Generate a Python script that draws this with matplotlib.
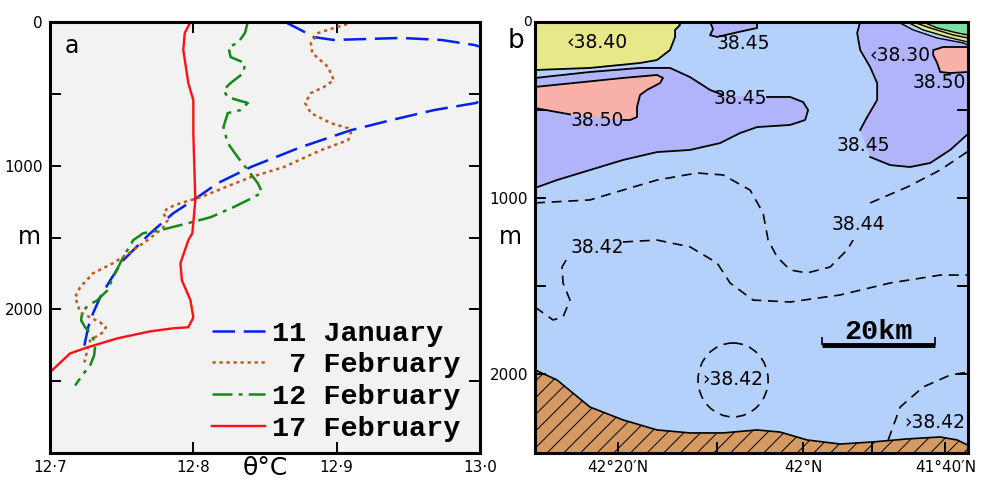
import matplotlib
matplotlib.use("Agg")
import matplotlib.pyplot as plt
import numpy as np
from matplotlib.patches import Ellipse

# ---- panel a: potential temperature profiles ----
depth_jan = [0, 56, 105, 125, 118, 111, 125, 160, 195, 300, 420, 500, 564, 613, 683, 753, 871,
             1010, 1122, 1240, 1331, 1470, 1519, 1659, 1798, 1916, 2028, 2125, 2300]
theta_jan = [12.864, 12.875, 12.884, 12.898, 12.922, 12.945, 12.973, 12.996, 13.008, 13.03, 13.03,
             13.012, 12.997, 12.968, 12.938, 12.910, 12.875, 12.840, 12.817, 12.800, 12.786, 12.770,
             12.765, 12.751, 12.742, 12.735, 12.730, 12.7266, 12.723]

depth_feb7 = [0, 42, 77, 146, 216, 314, 404, 453, 495, 564, 634, 704, 739, 767, 822, 892, 1010, 1080,
              1171, 1220, 1261, 1296, 1331, 1380, 1429, 1463, 1519, 1589, 1679, 1749, 1847, 1916, 1958,
              2021, 2056, 2091, 2125, 2160, 2216, 2286, 2370]
theta_feb7 = [12.912, 12.898, 12.887, 12.882, 12.883, 12.894, 12.898, 12.891, 12.882, 12.878, 12.882,
              12.896, 12.908, 12.910, 12.908, 12.889, 12.863, 12.840, 12.817, 12.805, 12.791, 12.782,
              12.779, 12.782, 12.779, 12.775, 12.768, 12.758, 12.744, 12.730, 12.721, 12.7175, 12.719,
              12.721, 12.728, 12.735, 12.739, 12.737, 12.728, 12.726, 12.724]

depth_feb12 = [0, 77, 146, 174, 244, 286, 355, 425, 474, 523, 544, 564, 613, 634, 732, 843, 941, 1031,
               1122, 1185, 1220, 1289, 1359, 1401, 1449, 1470, 1519, 1638, 1777, 1868, 1937, 1972, 2021,
               2077, 2125, 2181, 2251, 2321, 2390, 2460, 2530]
theta_feb12 = [12.838, 12.836, 12.831, 12.8245, 12.826, 12.836, 12.835, 12.826, 12.821, 12.824, 12.831,
               12.838, 12.833, 12.824, 12.821, 12.824, 12.831, 12.838, 12.845, 12.848, 12.842, 12.828,
               12.812, 12.796, 12.777, 12.765, 12.758, 12.751, 12.744, 12.740, 12.733, 12.7266, 12.7224,
               12.7217, 12.7245, 12.7294, 12.7315, 12.7308, 12.728, 12.7224, 12.7175]

depth_feb17 = [0, 77, 195, 425, 544, 774, 1010, 1240, 1470, 1519, 1679, 1798, 1937, 2056, 2125, 2132,
               2153, 2202, 2265, 2307, 2425, 2445]
theta_feb17 = [12.798, 12.794, 12.793, 12.7965, 12.800, 12.800, 12.8007, 12.8014, 12.7993, 12.7965,
               12.791, 12.792, 12.798, 12.800, 12.7965, 12.786, 12.770, 12.747, 12.726, 12.714,
               12.7014, 12.697]

profile_labels = ["11 January", " 7 February", "12 February", "17 February"]

# ---- panel b: salinity section (distance km, depth m) ----
yellow_x = [0, 9.73, 18.58, 21.59, 23.89, 24.78, 24.78, 25.66, 25.31]
yellow_d = [273, 261, 233, 216, 159, 85, 45, 17, 0]

purple_x = [0, 9.73, 18.58, 23.89, 27.43, 30.97, 33.27, np.nan, 41.06, 45.13, 47.43, 48.32, 47.79,
            45.13, 39.29, 36.28, 32.74, 27.43, 21.59, 15.58, 9.73, 3.89, 0]
purple_d = [318, 284, 261, 261, 313, 386, 415, np.nan, 426, 426, 455, 500, 557, 585, 597, 631, 688,
            727, 739, 784, 841, 898, 943]

salmon_x = [0, 6.73, 15.58, 21.59, 22.65, 22.12, 19.82, 18.58, 18.05, 18.05, 16.81, 15.58, np.nan, 6.2, 0]
salmon_d = [369, 347, 318, 301, 318, 347, 386, 415, 483, 540, 557, 557, np.nan, 525, 489]

bump_x = [30.97, 31.5, 30.97, 32.21, 36.28, 39.29, 39.29]
bump_d = [0, 40, 75, 85, 55, 34, 0]

rpurple_x = [57.52, 56.99, 57.52, 59.29, 60.53, 60.53, 58.76, 57.52, np.nan, 59.29, 62.83, 66.37,
             69.91, 73.45, 76.6]
rpurple_d = [0, 62, 159, 256, 347, 443, 540, 614, np.nan, 767, 813, 824, 801, 727, 636]

rsalmon_x = [76.6, 72.21, 70.44, 70.44, 71.15, 71.68, 73.45, 76.6]
rsalmon_d = [142, 142, 160, 188, 233, 284, 290, 284]

corner_x = [[64.25, 66.90, 71.15, 75.75, 76.6],
            [65.84, 68.67, 72.92, 76.6],
            [66.90, 69.91, 73.98, 76.6],
            [68.67, 71.15, 74.69, 76.6]]
corner_d = [[0, 45, 91, 119, 131],
            [0, 45, 85, 114],
            [0, 34, 74, 91],
            [0, 34, 62, 74]]
corner_colors = ["#b3d1fb", "#e6e88a", "#cfdc8e", "#7ee0a0"]

c4244_x = [0, 9.73, 15.58, 21.59, 28.67, 33.27, 38.05, 40.35, 41.24, 42.83, 45.13, 48.14, 52.21,
           55.22, 56.28, np.nan, 59.29, 65.84, 71.68, 76.6]
c4244_d = [1028, 1011, 955, 898, 858, 869, 955, 1085, 1239, 1335, 1409, 1426, 1392, 1295, 1239,
           np.nan, 1028, 938, 841, 735]

c4242_x = [0, 3.19, 4.96, 6.19, 4.96, 4.78, 5.84, np.nan, 15.58, 21.59, 27.43, 32.21, 34.51, 38.58,
           45.13, 53.98, 62.83, 71.68, 76.6]
c4242_d = [1620, 1693, 1676, 1580, 1483, 1392, 1335, np.nan, 1250, 1239, 1278, 1369, 1483, 1580,
           1591, 1551, 1483, 1438, 1438]

c4242b_x = [62.48, 64.60, 68.67, 73.45, 76.6]
c4242b_d = [2375, 2188, 2074, 2006, 1989]

eddy_centre = (35.04, 2034)
eddy_size = (12.4, 420)

bottom_x = [0, 3.89, 9.73, 15.58, 21.59, 27.43, 33.27, 39.29, 43.36, 48.14, 53.98, 59.82, 65.84,
            71.68, 74.69, 76.6]
bottom_d = [1977, 2034, 2188, 2261, 2318, 2335, 2335, 2318, 2330, 2375, 2398, 2386, 2369, 2358,
            2375, 2405]

contour_labels = ["\u203938.40", "38.45", "\u203938.30", "38.50", "38.45", "38.50", "38.45",
                  "38.44", "38.42", "\u203a38.42", "\u203a38.42"]
label_x = [10.97, 36.8, 64.6, 71.6, 36.28, 10.97, 58.05, 57.17, 10.97, 35.04, 70.8]
label_d = [114, 122, 188, 345, 432, 557, 700, 1153, 1284, 2034, 2278]

station_km = [14.7, 32.2, 47.4, 59.6, 72.6]
station_labels = ["42\u00b020\u2032N", "", "42\u00b0N", "", "41\u00b040\u2032N"]
scale_km = [50.8, 70.8]
scale_depth = 1835

plt.rcParams["font.family"] = "DejaVu Sans"
plt.rcParams["hatch.linewidth"] = 0.7
mono = {"family": "Liberation Mono", "weight": "bold", "size": 20.5}

fig = plt.figure(figsize=(9.91, 4.83), dpi=100)
ax1 = fig.add_axes([50 / 991, 30 / 483, 430 / 991, 431 / 483])
ax2 = fig.add_axes([535 / 991, 30 / 483, 433 / 991, 431 / 483])

# panel a
ax1.set_facecolor("#f2f2f2")
ax1.plot(theta_jan, depth_jan, color="#0022ee", lw=1.8, dashes=(9, 3.5), label=profile_labels[0])
ax1.plot(theta_feb7, depth_feb7, color="#c05a1c", lw=1.8, dashes=(1.3, 1.5), label=profile_labels[1])
ax1.plot(theta_feb12, depth_feb12, color="#138a13", lw=1.8, dashes=(8, 2.5, 1.5, 2.5), label=profile_labels[2])
ax1.plot(theta_feb17, depth_feb17, color="#ff1010", lw=1.7, label=profile_labels[3])
ax1.set_xlim(12.7, 13.0)
ax1.set_ylim(3000, 0)
ax1.set_xticks([12.7, 12.8, 12.9, 13.0])
ax1.set_xticklabels(["12\u00b77", "12\u00b78", "12\u00b79", "13\u00b70"])
ax1.set_yticks([0, 1000, 2000])
ax1.set_yticks([500, 1500, 2500], minor=True)
ax1.legend(loc="upper left", bbox_to_anchor=(0.377, 0.307), frameon=False, prop=mono,
           handlelength=1.85, handletextpad=0.25, labelspacing=0.2, borderpad=0, borderaxespad=0)
ax1.text(0.035, 0.945, "a", transform=ax1.transAxes, fontsize=17, va="center")
ax1.text(0.5, -0.035, "\u03b8\u00b0C", transform=ax1.transAxes, fontsize=18, ha="center", va="center")
ax1.text(-0.047, 0.5, "m", transform=ax1.transAxes, fontsize=17, ha="center", va="center")

# panel b
ax2.set_facecolor("#b3d1fb")
regions = [(yellow_x, yellow_d, "#e6e88a", [(0, 0)]),
           (purple_x, purple_d, "#b1b3fb", []),
           (salmon_x, salmon_d, "#f8b0a8", []),
           (bump_x, bump_d, "#b1b3fb", []),
           (rpurple_x, rpurple_d, "#b1b3fb", [(76.6, 0)]),
           (rsalmon_x, rsalmon_d, "#f8b0a8", [])]
for xs, ds, col, extra in regions:
    xs = np.array(xs, float)
    ds = np.array(ds, float)
    ok = ~np.isnan(xs)
    px = list(xs[ok]) + [p[0] for p in extra]
    pd_ = list(ds[ok]) + [p[1] for p in extra]
    ax2.fill(px, pd_, color=col, lw=0, zorder=1)
    ax2.plot(xs, ds, color="k", lw=1.3, zorder=2)

for xs, ds, col in zip(corner_x, corner_d, corner_colors):
    ax2.fill(xs + [76.6], ds + [0], color=col, lw=0, zorder=1)
    ax2.plot(xs, ds, color="k", lw=1.0, zorder=2)

for xs, ds in [(c4244_x, c4244_d), (c4242_x, c4242_d), (c4242b_x, c4242b_d)]:
    ax2.plot(xs, ds, color="k", lw=1.2, dashes=(6, 4), zorder=2)
ax2.add_patch(Ellipse(eddy_centre, eddy_size[0], eddy_size[1], fill=False, ec="k", lw=1.2,
                      ls=(0, (6, 4)), zorder=2))

ax2.fill_between(bottom_x, bottom_d, 2600, facecolor="#d49a62", edgecolor="k", hatch="//",
                 lw=0, zorder=1)
ax2.plot(bottom_x, bottom_d, color="k", lw=1.2, zorder=2)

for txt, x, d in zip(contour_labels, label_x, label_d):
    ax2.text(x, d, txt, fontsize=13.5, ha="center", va="center", zorder=3)

ax2.plot(scale_km, [scale_depth] * 2, color="k", lw=3.5, solid_capstyle="butt", zorder=3)
ax2.vlines(scale_km, scale_depth - 45, scale_depth, color="k", lw=1.2, zorder=3)
ax2.text(np.mean(scale_km), scale_depth - 75, "20km", fontdict=mono, ha="center", va="center", zorder=3)

ax2.set_xlim(0, 76.6)
ax2.set_ylim(2449, 0)
ax2.set_xticks(station_km)
ax2.set_xticklabels(station_labels)
ax2.set_yticks([0, 1000, 2000])
ax2.set_yticklabels(["", "1000", "2000"])
ax2.set_yticks([500, 1500], minor=True)
ax2.text(-0.018, 1.0, "0", transform=ax2.transAxes, fontsize=10, ha="center", va="center")
ax2.text(-0.045, 0.955, "b", transform=ax2.transAxes, fontsize=19, ha="center", va="center")
ax2.text(-0.058, 0.5, "m", transform=ax2.transAxes, fontsize=17, ha="center", va="center")

for ax in (ax1, ax2):
    for s in ax.spines.values():
        s.set_linewidth(2.2)
        s.set_zorder(5)
    ax.tick_params(which="both", direction="in", width=1.4, length=8, labelsize=11,
                   right=True, top=(ax is ax1), pad=5)

fig.savefig("out.png", dpi=100)
